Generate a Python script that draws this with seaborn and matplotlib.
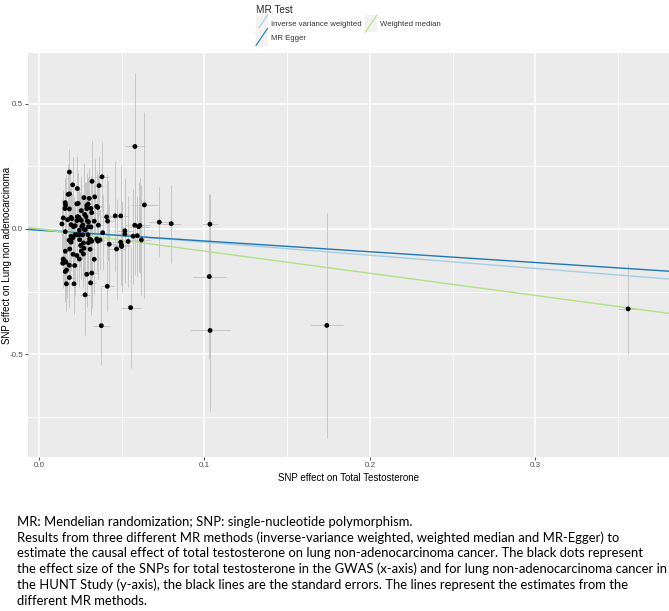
import numpy as np
import pandas as pd
import matplotlib
matplotlib.use("Agg")
import matplotlib.pyplot as plt
import seaborn as sns
from matplotlib.lines import Line2D
from matplotlib.patches import Rectangle
from matplotlib.legend_handler import HandlerBase
from matplotlib.ticker import MultipleLocator

# ---- data ----
snp_x = [0.0581, 0.0185, 0.0382, 0.0322, 0.0205, 0.0364, 0.0233, 0.0177, 0.0186, 0.0338,
         0.0305, 0.0273, 0.0230, 0.0238, 0.0290, 0.0298, 0.0160, 0.0162, 0.0350, 0.0356,
         0.0638, 0.0158, 0.0185, 0.0290, 0.0315, 0.0257, 0.0320, 0.0277, 0.0148, 0.0195,
         0.0200, 0.0233, 0.0241, 0.0250, 0.0257, 0.0230, 0.0174, 0.0285, 0.0293, 0.0300,
         0.0335, 0.0410, 0.0416, 0.0462, 0.0495, 0.0728, 0.0800, 0.0140, 0.0195, 0.0210,
         0.0220, 0.0260, 0.0267, 0.0300, 0.0315, 0.0360, 0.0580, 0.0603, 0.0611, 0.0160,
         0.0520, 0.0245, 0.0275, 0.0281, 0.0386, 0.0520, 0.0220, 0.0230, 0.0245, 0.0265,
         0.0297, 0.0195, 0.0207, 0.0570, 0.0595, 0.0195, 0.0183, 0.0247, 0.0307, 0.0315,
         0.0320, 0.0350, 0.0357, 0.0370, 0.0540, 0.0620, 0.0426, 0.0195, 0.0270, 0.0300,
         0.0495, 0.0500, 0.0500, 0.0470, 0.0253, 0.0310, 0.0160, 0.0187, 0.0257, 0.0273,
         0.0207, 0.0230, 0.0270, 0.0148, 0.0150, 0.0160, 0.0165, 0.0335, 0.0145, 0.0185,
         0.0245, 0.0217, 0.0168, 0.0160, 0.0290, 0.0320, 0.0185, 0.0167, 0.0213, 0.0313,
         0.0414, 0.0280, 0.0555, 0.0378, 0.1034, 0.1030, 0.1035, 0.1740, 0.3560]
snp_y = [0.329, 0.227, 0.208, 0.190, 0.176, 0.173, 0.161, 0.138, 0.140, 0.128,
         0.122, 0.125, 0.100, 0.102, 0.093, 0.099, 0.105, 0.094, 0.090, 0.086,
         0.096, 0.081, 0.080, 0.081, 0.082, 0.073, 0.065, 0.058, 0.044, 0.046,
         0.041, 0.049, 0.047, 0.038, 0.034, 0.033, 0.037, 0.049, 0.032, 0.028,
         0.031, 0.048, 0.031, 0.052, 0.052, 0.027, 0.021, 0.020, 0.017, 0.009,
         0.013, 0.010, 0.016, 0.009, 0.008, 0.015, 0.015, 0.009, 0.014, -0.011,
         -0.007, -0.005, -0.002, -0.004, -0.015, -0.020, -0.023, -0.024, -0.023, -0.024,
         -0.023, -0.029, -0.035, -0.029, -0.027, -0.043, -0.045, -0.043, -0.040, -0.044,
         -0.049, -0.040, -0.049, -0.044, -0.050, -0.044, -0.061, -0.053, -0.056, -0.055,
         -0.053, -0.064, -0.070, -0.080, -0.066, -0.081, -0.089, -0.080, -0.088, -0.077,
         -0.101, -0.106, -0.100, -0.120, -0.125, -0.130, -0.133, -0.121, -0.137, -0.145,
         -0.120, -0.146, -0.164, -0.170, -0.181, -0.176, -0.194, -0.219, -0.219, -0.215,
         -0.229, -0.263, -0.314, -0.386, 0.019, -0.190, -0.405, -0.385, -0.319]
se_y = [0.295, 0.09, 0.14, 0.16, 0.11, 0.12, 0.13, 0.12, 0.10, 0.15,
        0.12, 0.14, 0.11, 0.12, 0.13, 0.11, 0.10, 0.12, 0.14, 0.13,
        0.37, 0.11, 0.12, 0.12, 0.13, 0.14, 0.12, 0.13, 0.11, 0.12,
        0.10, 0.13, 0.12, 0.11, 0.12, 0.10, 0.11, 0.14, 0.12, 0.13,
        0.15, 0.17, 0.16, 0.22, 0.20, 0.14, 0.155, 0.10, 0.11, 0.12,
        0.10, 0.13, 0.11, 0.12, 0.14, 0.13, 0.20, 0.18, 0.19, 0.11,
        0.21, 0.12, 0.13, 0.12, 0.15, 0.17, 0.11, 0.12, 0.10, 0.13,
        0.12, 0.11, 0.12, 0.19, 0.16, 0.12, 0.10, 0.11, 0.13, 0.12,
        0.14, 0.13, 0.15, 0.12, 0.18, 0.22, 0.16, 0.11, 0.12, 0.13,
        0.17, 0.16, 0.18, 0.20, 0.12, 0.13, 0.11, 0.12, 0.11, 0.12,
        0.12, 0.11, 0.13, 0.11, 0.10, 0.12, 0.11, 0.14, 0.10, 0.12,
        0.11, 0.12, 0.11, 0.12, 0.13, 0.14, 0.12, 0.11, 0.12, 0.13,
        0.10, 0.16, 0.24, 0.155, 0.12, 0.33, 0.32, 0.45, 0.18]
se_x = [0.006, 0.002, 0.004, 0.003, 0.002, 0.003, 0.002, 0.002, 0.002, 0.003,
        0.003, 0.003, 0.002, 0.002, 0.003, 0.003, 0.002, 0.002, 0.003, 0.003,
        0.008, 0.002, 0.002, 0.003, 0.003, 0.002, 0.003, 0.003, 0.002, 0.002,
        0.002, 0.002, 0.002, 0.002, 0.002, 0.002, 0.002, 0.003, 0.003, 0.003,
        0.003, 0.004, 0.004, 0.005, 0.005, 0.006, 0.006, 0.002, 0.002, 0.002,
        0.002, 0.002, 0.002, 0.003, 0.003, 0.003, 0.006, 0.006, 0.006, 0.002,
        0.005, 0.002, 0.003, 0.003, 0.004, 0.005, 0.002, 0.002, 0.002, 0.002,
        0.003, 0.002, 0.002, 0.006, 0.006, 0.002, 0.002, 0.002, 0.003, 0.003,
        0.003, 0.003, 0.003, 0.003, 0.005, 0.006, 0.004, 0.002, 0.003, 0.003,
        0.005, 0.005, 0.005, 0.005, 0.002, 0.003, 0.002, 0.002, 0.002, 0.003,
        0.002, 0.002, 0.003, 0.002, 0.002, 0.002, 0.002, 0.003, 0.002, 0.002,
        0.002, 0.002, 0.002, 0.002, 0.003, 0.003, 0.002, 0.002, 0.002, 0.003,
        0.004, 0.003, 0.006, 0.005, 0.005, 0.010, 0.012, 0.010, 0.006]

methods = ["Inverse variance weighted", "MR Egger", "Weighted median"]
slopes = [-0.525, -0.43, -0.885]
intercepts = [0.0, -0.005, 0.0]
method_colors = ["#A6CEE3", "#1F78B4", "#B2DF8A"]

x_ticks = [0.0, 0.1, 0.2, 0.3]
y_ticks = [-0.5, 0.0, 0.5]

caption = ("MR: Mendelian randomization; SNP: single-nucleotide polymorphism.\n"
           "Results from three different MR methods (inverse-variance weighted, weighted median and MR-Egger) to\n"
           "estimate the causal effect of total testosterone on lung non-adenocarcinoma cancer. The black dots represent\n"
           "the effect size of the SNPs for total testosterone in the GWAS (x-axis) and for lung non-adenocarcinoma cancer in\n"
           "the HUNT Study (y-axis), the black lines are the standard errors. The lines represent the estimates from the\n"
           "different MR methods.")

df = pd.DataFrame({"x": snp_x, "y": snp_y, "sx": se_x, "sy": se_y})

sns.set_theme(style="darkgrid")
plt.rcParams["font.family"] = ["Liberation Sans Narrow", "Liberation Sans", "DejaVu Sans"]

W, H = 669, 611
fig = plt.figure(figsize=(W / 100, H / 100), dpi=100)
fig.patch.set_facecolor("white")
ax = fig.add_axes([28 / W, 1 - 457 / H, (669 - 28) / W, (457 - 53) / H])
ax.set_facecolor("#EBEBEB")

ax.set_xlim(-0.0065, 0.3807)
ax.set_ylim(-0.91, 0.702)
ax.xaxis.set_major_locator(MultipleLocator(0.1))
ax.xaxis.set_minor_locator(MultipleLocator(0.05))
ax.yaxis.set_major_locator(MultipleLocator(0.5))
ax.yaxis.set_minor_locator(MultipleLocator(0.25))
ax.grid(which="major", color="white", lw=1.1)
ax.grid(which="minor", color="white", lw=0.55)
ax.set_axisbelow(True)
for s in ax.spines.values():
    s.set_visible(False)

# error bars
ax.errorbar(df["x"], df["y"], xerr=df["sx"], yerr=df["sy"], fmt="none",
            ecolor="#C4C4C4", elinewidth=0.65, capsize=0, zorder=2)
# MR lines
handles = []
for m, b, a, c in zip(methods, slopes, intercepts, method_colors):
    ax.axline((0, a), slope=b, color=c, lw=1.0, zorder=3)
    handles.append(Line2D([], [], color=c, lw=0.9, label=m))
# points
sns.scatterplot(data=df, x="x", y="y", ax=ax, color="black", s=12,
                edgecolor="none", linewidth=0, zorder=4, legend=False)

ax.set_xticks(x_ticks)
ax.set_yticks(y_ticks)
ax.set_xticklabels([f"{v:.1f}" for v in x_ticks])
ax.set_yticklabels([f"{v:.1f}" for v in y_ticks])
ax.tick_params(axis="both", which="major", length=2.5, width=0.6, color="#333333",
               labelsize=5.8, labelcolor="#4D4D4D", pad=1.0, bottom=True, left=True)
ax.tick_params(which="minor", length=0)
ax.set_xlabel("SNP effect on Total Testosterone", fontsize=7, color="black", labelpad=3)
ax.set_ylabel("")
fig.text(7.5 / W, 1 - 255 / H, "SNP effect on Lung non adenocarcinoma", rotation=90,
         ha="center", va="center", fontsize=7, color="black")


class DiagHandler(HandlerBase):
    def create_artists(self, legend, orig_handle, xdescent, ydescent, width, height, fontsize, trans):
        r = Rectangle((-xdescent, -ydescent - 3), width, height + 6, facecolor="#F2F2F2",
                      edgecolor="none", transform=trans)
        ln = Line2D([-xdescent, -xdescent + width], [-ydescent - 3, -ydescent + height + 3],
                    color=orig_handle.get_color(), lw=0.8, transform=trans)
        return [r, ln]


leg = fig.legend(handles=handles, labels=methods, ncol=2, title="MR Test",
                 loc="upper left", bbox_to_anchor=(252 / W, 1 - 1 / H), frameon=False,
                 fontsize=5.6, title_fontsize=7.2, handler_map={Line2D: DiagHandler()},
                 handlelength=1.5, handleheight=1.4, handletextpad=0.4, columnspacing=0.5,
                 labelspacing=0.55, borderpad=0.0, alignment="left")
for t in leg.get_texts():
    t.set_color("#333333")

fig.text(17 / W, 1 - 516 / H, caption, ha="left", va="top", fontsize=9.4,
         family=["Lato", "DejaVu Sans"], linespacing=1.33, color="black")

fig.savefig("out.png", dpi=100)
